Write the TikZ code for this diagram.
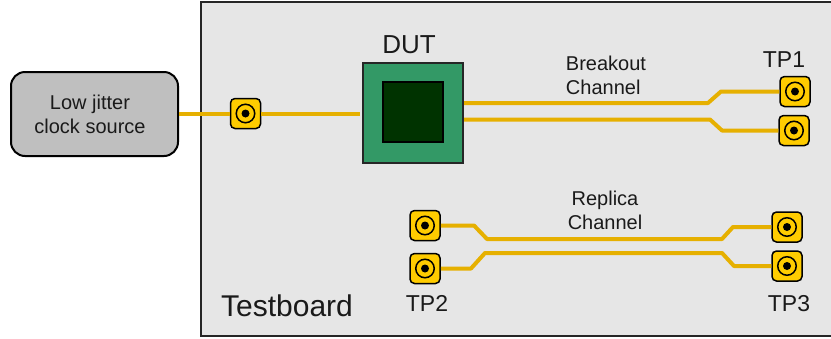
\documentclass[tikz,border=0pt]{standalone}
\usepackage{fontspec}
\setmainfont{Liberation Sans}
\usetikzlibrary{positioning}
\definecolor{boardgray}{HTML}{E6E6E6}
\definecolor{tracegold}{HTML}{E6B000}
\definecolor{padgold}{HTML}{FFCC00}
\definecolor{dutgreen}{HTML}{339966}
\definecolor{diegreen}{HTML}{003300}
\definecolor{inktext}{HTML}{1A1A1A}

\begin{document}
\begin{tikzpicture}[
  x=1pt, y=-1pt,
  label/.style={text=inktext, align=center, inner sep=0pt, font=\fontsize{20}{24}\selectfont},
  pad/.style={rectangle, draw=black, line width=1.5pt, fill=padgold, rounded corners=4.5pt, minimum size=30pt, inner sep=0pt},
  ring/.style={circle, draw=black, line width=1.5pt, minimum size=18.5pt, inner sep=0pt},
  core/.style={circle, fill=black, minimum size=8pt, inner sep=0pt},
  trace/.style={draw=tracegold, line width=4pt, line join=round},
]
\useasboundingbox (0,0) rectangle (831,338);
\clip (0,0) rectangle (831,338);

\node[rectangle, draw=black!85, line width=2pt, fill=boardgray, minimum width=640pt, minimum height=334pt, inner sep=0pt] (board) at (521,169) {};
\node[rectangle, draw=black, line width=2pt, fill=black!25, rounded corners=14pt, minimum width=167pt, minimum height=84pt, inner sep=0pt] (clock) at (94.5,114) {};
\node[label] (clocktext) at (90,114) {Low jitter\\clock source};

\node[rectangle, draw=black!85, line width=2pt, fill=dutgreen, minimum size=100pt, inner sep=0pt] (dut) at (413,113) {};
\node[rectangle, draw=black, line width=2pt, fill=diegreen, minimum size=60pt, inner sep=0pt] (die) at (413,112) {};
\node[label, font=\fontsize{26}{30}\selectfont] (duttext) at (409,45) {DUT};

\node[pad] (input) at (245.5,113.5) {};
\node[pad] (tp1) at (795,91.5) {};
\node[pad] (tp1n) at (794,130.5) {};
\node[pad] (tp2) at (425,225.5) {};
\node[pad] (tp2n) at (425,268.5) {};
\node[pad] (tp3) at (787,227) {};
\node[pad] (tp3n) at (787,266) {};

\foreach \p in {input,tp1,tp1n,tp2,tp2n,tp3,tp3n} {
  \node[ring] (\p ring) at (\p) {};
  \node[core] (\p core) at (\p) {};
}

\coordinate (dutin) at (360,113.5);

% traces
\draw[trace] (clock.east |- input) -- (input.west);
\draw[trace] (input.east) -- (dutin);
\draw[trace] (dut.east |- 0,103) -- (708,103) -- (721,91.5) -- (tp1.west);
\draw[trace] (dut.east |- 0,119.5) -- (710,119.5) -- (722,130.5) -- (tp1n.west);
\draw[trace] (tp2.east) -- (474,225.5) -- (487,239) -- (722,239) -- (733,227) -- (tp3.west);
\draw[trace] (tp2n.east) -- (471,268.5) -- (485,253) -- (722,253) -- (734,266) -- (tp3n.west);

\node[label, align=left] (breakout) at (606,75) {Breakout\\Channel};
\node[label] (replica) at (605,210) {Replica\\Channel};
\node[label, font=\fontsize{23}{27}\selectfont] (tp1text) at (784,60) {TP1};
\node[label, font=\fontsize{23}{27}\selectfont] (tp2text) at (427,303) {TP2};
\node[label, font=\fontsize{23}{27}\selectfont] (tp3text) at (789,304) {TP3};
\node[label, font=\fontsize{30}{34}\selectfont] (boardtext) at (287,306) {Testboard};
\end{tikzpicture}
\end{document}
